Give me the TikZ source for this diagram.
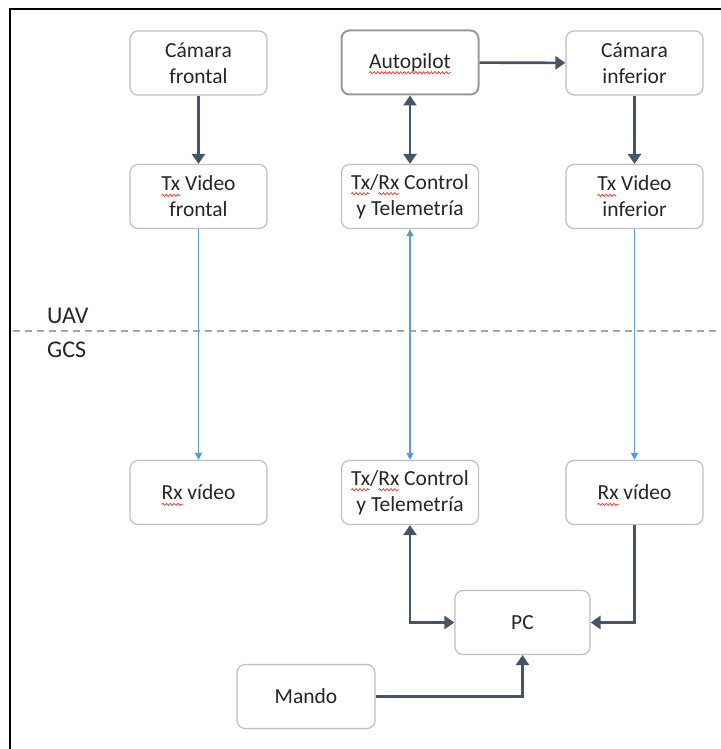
\documentclass[tikz,border=0pt]{standalone}
\usepackage{fontspec}
\setmainfont{Carlito}
\usetikzlibrary{arrows.meta,decorations.pathmorphing}

\definecolor{slate}{HTML}{44546A}
\definecolor{linkblue}{HTML}{5B9BD5}
\definecolor{boxline}{HTML}{BFBFBF}
\definecolor{pilotline}{HTML}{9A9A9A}
\definecolor{ink}{HTML}{262626}
\definecolor{sepline}{HTML}{A6A6A6}
\definecolor{spellred}{HTML}{E8403A}

% red wavy proofing underline under a word
\newcommand\spellmark[1]{\tikz[baseline=(w.base), sharp corners]{%
  \node[inner sep=0pt, outer sep=0pt, minimum width=0pt, minimum height=0pt,
    draw=none, fill=none, text=ink] (w) {#1};%
  \draw[overlay, spellred, line width=0.8pt, sharp corners, decorate,
    decoration={snake, amplitude=1.1pt, segment length=3.8pt}]
    ([yshift=-4.5pt]w.base west) -- ([yshift=-4.5pt]w.base east);}}

\tikzset{
  box/.style={draw=boxline, line width=1.2pt, rounded corners=8pt, fill=white,
    minimum width=137pt, minimum height=64pt, inner sep=0pt, align=center,
    text=ink, font=\fontsize{21.5}{26}\selectfont},
  pilot/.style={draw=pilotline, line width=2pt},
  darr/.style={draw=slate, line width=2.6pt, -{Triangle[length=10pt,width=13pt]}},
  bidarr/.style={draw=slate, line width=2.6pt, {Triangle[length=10pt,width=13pt]}-{Triangle[length=10pt,width=13pt]}},
  barr/.style={draw=linkblue, line width=1.4pt, -{Triangle[length=7pt,width=7pt]}},
  bibarr/.style={draw=linkblue, line width=1.4pt, {Triangle[length=7pt,width=7pt]}-{Triangle[length=7pt,width=7pt]}},
  zone/.style={text=ink, anchor=base west, inner sep=0pt, font=\fontsize{24}{28}\selectfont}
}

\begin{document}
\begin{tikzpicture}[x=1pt, y=-1pt]
  \useasboundingbox (0,0) rectangle (720,749);
  \fill[white] (0,0) rectangle (720,749);

  % outer frame
  \draw[black, line width=1.6pt] (10,760) -- (10,9) -- (730,9);

  % UAV / GCS separation
  \draw[sepline, line width=1.4pt, dash pattern=on 7pt off 5pt] (13,331) -- (720,331);
  \node[zone] (uav) at (47,323) {UAV};
  \node[zone] (gcs) at (47,357) {GCS};

  % on-board blocks
  \node[box] (camf) at (198.5,63) {Cámara\\frontal};
  \node[box, pilot] (auto) at (410,62.5) {\spellmark{Autopilot}};
  \node[box] (cami) at (634.5,63) {Cámara\\inferior};
  \node[box] (txf) at (198.5,196.5) {\spellmark{Tx} Video\\frontal};
  \node[box] (txrxu) at (410,196.5) {\spellmark{Tx}/\spellmark{Rx} Control\\y Telemetría};
  \node[box] (txi) at (634.5,196.5) {\spellmark{Tx} Video\\inferior};

  % ground blocks
  \node[box] (rxf) at (198.5,492.5) {\spellmark{Rx} vídeo};
  \node[box] (txrxd) at (410,492.5) {\spellmark{Tx}/\spellmark{Rx} Control\\y Telemetría};
  \node[box] (rxi) at (634.5,492.5) {\spellmark{Rx} vídeo};
  \node[box, minimum width=135pt] (pc) at (522.5,622.5) {PC};
  \node[box, minimum width=138pt] (mando) at (306,696.5) {Mando};

  % wired links
  \draw[darr] (camf) -- (txf);
  \draw[bidarr] (auto) -- (txrxu);
  \draw[darr] (auto) -- (cami);
  \draw[darr] (cami) -- (txi);
  \draw[bidarr] (txrxd.south) |- (pc.west);
  \draw[darr] (rxi.south) |- (pc.east);
  \draw[darr] (mando.east) -| (pc.south);

  % radio links
  \draw[barr] (txf) -- (rxf);
  \draw[bibarr] (txrxu) -- (txrxd);
  \draw[barr] (txi) -- (rxi);
\end{tikzpicture}
\end{document}
